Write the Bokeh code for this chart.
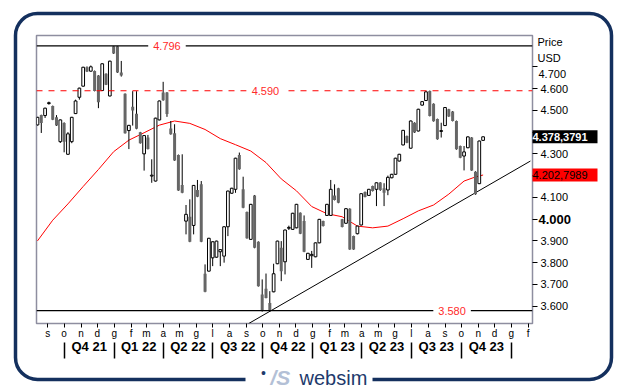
import pandas as pd
from bokeh.plotting import figure
from bokeh.layouts import column
from bokeh.models import (Range1d, FixedTicker, LinearAxis, Span, Label,
                          BoxAnnotation, ColumnDataSource)
from bokeh.embed import file_html
from bokeh.resources import INLINE

# ---------------- data (weekly candles, index points) ----------------
FIRST_WEEK = "2021-08-13"
opens = [4433, 4479, 4476, 4531, 4520, 4468, 4356, 4442, 4298, 4356,
         4485, 4560, 4611, 4698, 4680, 4681, 4660, 4591, 4668, 4566,
         4795, 4795, 4674, 4576, 4407, 4516, 4484, 4399, 4300, 4375,
         4198, 4175, 4456, 4582, 4582, 4416, 4395, 4295, 4157, 3991,
         4011, 3971, 4134, 4160, 3749, 3761, 3822, 3825, 3850, 3830,
         3965, 4119, 4137, 4295, 4137, 4033, 3907, 4109, 3896, 3654,
         3680, 3615, 3666, 3795, 3868, 3804, 3958, 3953, 3960, 4029,
         3991, 3815, 3832, 3827, 3891, 3991, 4017, 4017, 4109, 4142,
         3999, 3981, 4048, 3922, 3933, 3973, 4125, 4109, 4152, 4137,
         4168, 4142, 4134, 4190, 4206, 4267, 4341, 4382, 4326, 4443,
         4405, 4524, 4545, 4589, 4530, 4460, 4403, 4430, 4505, 4495,
         4451, 4336, 4290, 4328, 4375, 4218, 4163, 4362]
highs = [4470, 4480, 4512, 4540, 4522, 4478, 4458, 4445, 4400, 4470,
         4549, 4604, 4700, 4702, 4706, 4683, 4662, 4716, 4670, 4728,
         4796, 4796, 4727, 4578, 4433, 4588, 4588, 4401, 4386, 4387,
         4275, 4466, 4545, 4631, 4584, 4451, 4436, 4297, 4298, 4065,
         4091, 4157, 4180, 4175, 3792, 3914, 3898, 3901, 3862, 3967,
         4131, 4144, 4282, 4306, 4195, 4035, 4070, 4111, 3898, 3723,
         3750, 3669, 3795, 3901, 3899, 3952, 3970, 4029, 4070, 4031,
         4017, 3845, 3854, 3893, 4001, 3993, 4070, 4180, 4160, 4144,
         4001, 4050, 4050, 3924, 3970, 4119, 4127, 4139, 4154, 4169,
         4170, 4165, 4200, 4208, 4282, 4300, 4410, 4384, 4453, 4445,
         4507, 4542, 4590, 4591, 4532, 4462, 4443, 4515, 4507, 4497,
         4453, 4338, 4336, 4380, 4377, 4220, 4361, 4380]
lows = [4430, 4396, 4465, 4526, 4455, 4428, 4350, 4307, 4296, 4349,
        4483, 4549, 4609, 4676, 4678, 4587, 4510, 4589, 4616, 4564,
        4759, 4672, 4655, 4393, 4322, 4430, 4413, 4347, 4223, 4320,
        4167, 4173, 4454, 4544, 4470, 4388, 4268, 4130, 4119, 3930,
        3894, 3930, 4101, 3894, 3664, 3759, 3784, 3823, 3784, 3800,
        3922, 4117, 4121, 4227, 4050, 3910, 3905, 3866, 3690, 3575,
        3636, 3575, 3664, 3793, 3715, 3746, 3950, 3951, 3958, 3931,
        3848, 3813, 3776, 3825, 3889, 3966, 4015, 4015, 4086, 4073,
        3962, 3979, 3859, 3859, 3930, 3971, 4100, 4107, 4127, 4060,
        4130, 4060, 4110, 4188, 4204, 4265, 4339, 4349, 4324, 4396,
        4403, 4522, 4543, 4472, 4448, 4365, 4375, 4428, 4470, 4449,
        4319, 4280, 4224, 4326, 4222, 4112, 4161, 4360]
closes = [4468, 4442, 4510, 4535, 4457, 4430, 4456, 4356, 4392, 4468,
          4543, 4602, 4698, 4678, 4700, 4589, 4537, 4714, 4618, 4726,
          4761, 4674, 4660, 4395, 4431, 4499, 4415, 4349, 4384, 4322,
          4202, 4464, 4543, 4546, 4483, 4390, 4270, 4132, 4121, 4022,
          3896, 4155, 4103, 3896, 3666, 3912, 3896, 3899, 3860, 3965,
          4129, 4142, 4280, 4229, 4052, 3912, 4068, 3868, 3692, 3580,
          3638, 3580, 3749, 3899, 3761, 3950, 3962, 4027, 4068, 3933,
          3850, 3843, 3838, 3891, 3999, 3968, 4068, 4137, 4088, 4075,
          3964, 4048, 3861, 3861, 3968, 4117, 4102, 4137, 4129, 4167,
          4134, 4121, 4192, 4206, 4280, 4298, 4408, 4351, 4451, 4398,
          4505, 4540, 4585, 4474, 4450, 4367, 4407, 4513, 4472, 4451,
          4321, 4282, 4309, 4378, 4224, 4114, 4359, 4378.3791]

# red moving average, read at every 4th week (week index -> value)
ma_weeks = [0, 4, 8, 12, 16, 20, 24, 28, 32, 36, 40, 44, 48, 52, 56, 60,
            64, 68, 72, 76, 80, 84, 88, 92, 96, 100, 104, 108, 112, 115, 117]
ma_values = [3900, 3995, 4070, 4150, 4228, 4310, 4363, 4397, 4432, 4451,
             4440, 4412, 4370, 4342, 4313, 4260, 4185, 4130, 4058, 4025,
             4011, 3968, 3960, 3968, 4002, 4038, 4065, 4115, 4175, 4194,
             4202.7989]

levels = [4796, 4590, 3580]
level_texts = ["4.796", "4.590", "3.580"]
level_label_dates = ["2022-04-08", "2022-10-06", "2023-09-14"]
level_dashes = ["solid", "dashed", "solid"]
level_colors = ["black", "#ff0000", "black"]

trend_dates = ["2022-09-05", "2024-02-05"]
trend_prices = [3520, 4267]

price_ticks = [3600, 3700, 3800, 3900, 4000, 4100, 4200, 4300, 4400, 4500, 4600, 4700]
price_tick_texts = ["3.600", "3.700", "3.800", "3.900", "4.000", "4.100",
                    "4.200", "4.300", "4.400", "4.500", "4.600", "4.700"]

month_starts = pd.date_range("2021-09-01", "2024-02-01", freq="MS")
month_letters = list("sondgfmamglasondgfmamglasondgf")
quarter_starts = pd.date_range("2021-10-01", "2024-01-01", freq="QS")
quarter_labels = ["Q4 21", "Q1 22", "Q2 22", "Q3 22", "Q4 22",
                  "Q1 23", "Q2 23", "Q3 23", "Q4 23"]

last_price = 4378.3791
last_text = "4.378,3791"
ma_last = 4202.7989
ma_text = "4.202,7989"

# ---------------- helpers ----------------
DAY = 86400000.0


def ms(d):
    return (pd.Timestamp(d) - pd.Timestamp("1970-01-01")) / pd.Timedelta(milliseconds=1)


FONT = "Liberation Sans"
W, H = 626, 389
FL, FT, FW, FH = 36, 35, 496, 288          # frame placement in px
week_dates = pd.date_range(FIRST_WEEK, periods=len(opens), freq="7D")
week_ms = [ms(d) for d in week_dates]

up = dict(x=[], top=[], bottom=[])
dn = dict(x=[], top=[], bottom=[])
for x, o, c in zip(week_ms, opens, closes):
    if c >= o:
        up["x"].append(x); up["top"].append(c); up["bottom"].append(o)
    else:
        dn["x"].append(x); dn["top"].append(o); dn["bottom"].append(c)

x0 = ms("2021-08-11 05:00")
x1 = ms("2024-02-08 19:00")
y0, y1 = 3520.4, 4843.9

p = figure(width=W, height=H, x_range=Range1d(x0, x1), y_range=Range1d(y0, y1),
           output_backend="svg", toolbar_location=None,
           x_axis_location=None, y_axis_location="right",
           min_border_left=FL, min_border_right=W - FL - FW, min_border_top=FT,
           min_border_bottom=H - FT - FH)
p.background_fill_color = "white"
p.border_fill_color = "white"
p.outline_line_color = "#8e8ea0"
p.outline_line_width = 1.5
p.grid.visible = False

# right price axis
ya = p.yaxis[0]
ya.ticker = FixedTicker(ticks=price_ticks)
ov = dict(zip(price_ticks, price_tick_texts))
for hidden in (4000, 4200, 4400, 4700):
    ov[hidden] = ""
ya.major_label_overrides = ov
ya.axis_line_color = None
ya.major_tick_in = 0
ya.major_tick_out = 5
ya.major_tick_line_color = "black"
ya.minor_tick_line_color = None
ya.major_label_standoff = 3
ya.major_label_text_font = FONT
ya.major_label_text_font_size = "11px"
ya.major_label_text_color = "black"

# month axis
ax_m = LinearAxis(ticker=FixedTicker(ticks=[ms(d) for d in month_starts]),
                  major_label_overrides={ms(d): t for d, t in zip(month_starts, month_letters)},
                  axis_line_color=None, major_tick_in=0, major_tick_out=4,
                  major_tick_line_color="black", minor_tick_line_color=None,
                  major_label_standoff=0, major_label_text_font=FONT,
                  major_label_text_font_size="10px", major_label_text_color="black")
p.add_layout(ax_m, "below")

# quarter axis: labels at quarter middles, separators as minor ticks
q_bounds = list(quarter_starts)
q_mid = [q_bounds[i] + (q_bounds[i + 1] - q_bounds[i]) / 2 for i in range(len(q_bounds) - 1)]
ax_q = LinearAxis(ticker=FixedTicker(ticks=[ms(d) for d in q_mid],
                                     minor_ticks=[ms(d) for d in q_bounds]),
                  major_label_overrides={ms(d): t for d, t in zip(q_mid, quarter_labels)},
                  axis_line_color=None, major_tick_in=0, major_tick_out=0,
                  minor_tick_in=-1, minor_tick_out=17, minor_tick_line_color="black",
                  minor_tick_line_width=1.5,
                  major_label_standoff=-20, major_label_text_font=FONT,
                  major_label_text_font_size="13px", major_label_text_font_style="bold",
                  major_label_text_color="black")
p.add_layout(ax_q, "below")

# level lines
for lv, dash, col in zip(levels, level_dashes, level_colors):
    p.add_layout(Span(location=lv, dimension="width", line_color=col,
                      line_width=1.2, line_dash=dash))

# moving average & trend line
p.line([week_ms[i] for i in ma_weeks], ma_values, line_color="#ff0000", line_width=1)
p.line([ms(d) for d in trend_dates], trend_prices, line_color="black", line_width=1)

# candles
p.segment(x0=week_ms, y0=lows, x1=week_ms, y1=highs, line_color="black", line_width=1)
p.vbar(x="x", top="top", bottom="bottom", width=5.5 * DAY, source=ColumnDataSource(dn),
       fill_color="#666666", line_color=None)
p.vbar(x="x", top="top", bottom="bottom", width=5 * DAY, source=ColumnDataSource(up),
       fill_color="white", line_color="black", line_width=1)

# level labels
for lv, txt, d in zip(levels, level_texts, level_label_dates):
    p.add_layout(Label(x=ms(d), y=lv, text=txt, text_align="center", text_baseline="middle",
                       text_color="#ff2a2a", text_font=FONT, text_font_size="11px",
                       background_fill_color="white", padding=5))

# ---------------- transparent overlay for everything outside the frame ----------------
ppx = FW / (x1 - x0)
ppy = FH / (y1 - y0)
ox_range = Range1d(x0 - FL / ppx, x1 + (W - FL - FW) / ppx)
oy_range = Range1d(y0 - (H - FT - FH) / ppy, y1 + FT / ppy)
q = figure(width=W, height=H, x_range=ox_range, y_range=oy_range,
           output_backend="svg", toolbar_location=None,
           x_axis_location=None, y_axis_location=None, min_border=0,
           styles={"position": "absolute", "left": "0px", "top": "0px"})
q.background_fill_color = None
q.border_fill_color = None
q.outline_line_color = None
q.grid.visible = False
for fig in (p, q):
    try:
        fig.frame_align = False
    except Exception:
        pass

# outer rounded frame and logo
q.add_layout(BoxAnnotation(left=15, right=611, top=13, bottom=379,
                           left_units="canvas", right_units="canvas",
                           top_units="canvas", bottom_units="canvas",
                           fill_color=None, fill_alpha=0, line_color="#14305e",
                           line_alpha=1, line_width=3.5, border_radius=22))
q.add_layout(BoxAnnotation(left=245, right=372, top=371, bottom=388,
                           left_units="canvas", right_units="canvas",
                           top_units="canvas", bottom_units="canvas",
                           fill_color="white", fill_alpha=1, line_color=None))
q.add_layout(Label(x=263, y=372, x_units="canvas", y_units="canvas", text="•",
                   text_align="center", text_baseline="middle", text_font=FONT,
                   text_font_size="14px", text_color="#1e3a6c"))
q.add_layout(Label(x=270, y=377, x_units="canvas", y_units="canvas", text="/S",
                   text_baseline="middle", text_font=FONT, text_font_size="21px",
                   text_font_style="bold italic", text_color="#b3c0d6"))
q.add_layout(Label(x=299, y=377, x_units="canvas", y_units="canvas", text="websim",
                   text_baseline="middle", text_font=FONT, text_font_size="20px",
                   text_color="#1e3a6c"))

# right-side texts
q.add_layout(Label(x=538, y=4700 - 7 / ppy, x_units="canvas", text="4.700",
                   text_baseline="middle", text_font=FONT, text_font_size="11px",
                   text_color="black"))
q.add_layout(Label(x=538, y=4000, x_units="canvas", text="4.000",
                   text_baseline="middle", text_font=FONT, text_font_size="13px",
                   text_font_style="bold", text_color="black"))
q.add_layout(Label(x=537, y=41, x_units="canvas", y_units="canvas", text="Price",
                   text_baseline="middle", text_font=FONT, text_font_size="11px",
                   text_color="black"))
q.add_layout(Label(x=537, y=57, x_units="canvas", y_units="canvas", text="USD",
                   text_baseline="middle", text_font=FONT, text_font_size="11px",
                   text_color="black"))

half = 6.5 / ppy
for val, txt, bg, fg, style in ((last_price, last_text, "black", "white", "bold"),
                                (ma_last, ma_text, "#ff0000", "black", "normal")):
    q.add_layout(BoxAnnotation(left=532, right=597, left_units="canvas", right_units="canvas",
                               top=val + half, bottom=val - half,
                               fill_color=bg, fill_alpha=1, line_color=None))
    q.add_layout(Label(x=532, y=val, x_units="canvas", text=txt,
                       text_baseline="middle", text_font=FONT, text_font_size="11px",
                       text_font_style=style, text_color=fg))

layout = column(p, q)
open("out.html", "w").write(file_html(layout, INLINE))
